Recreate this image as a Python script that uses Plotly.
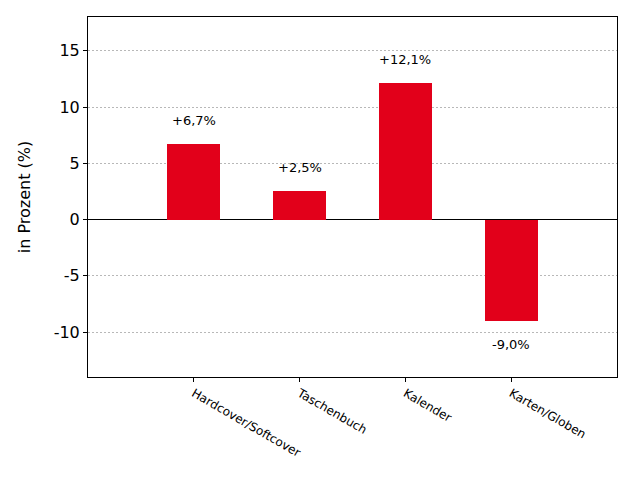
import plotly.graph_objects as go

categories = ["Hardcover/Softcover", "Taschenbuch", "Kalender", "Karten/Globen"]
values = [6.7, 2.5, 12.1, -9.0]
labels = ["+6,7%", "+2,5%", "+12,1%", "-9,0%"]
y_ticks = [-10, -5, 0, 5, 10, 15]

fig = go.Figure()
fig.add_trace(go.Bar(
    x=list(range(len(categories))), y=values,
    width=0.5, marker=dict(color="#e2001a", line=dict(width=0)),
    hoverinfo="skip",
))

for i, (v, t) in enumerate(zip(values, labels)):
    fig.add_annotation(
        x=i, y=v, text=t, showarrow=False,
        yshift=24 if v >= 0 else -24,
        font=dict(family="DejaVu Sans", size=13, color="black"),
    )

fig.update_layout(
    width=640, height=480,
    margin=dict(l=80, r=31, t=9, b=111),
    plot_bgcolor="white", paper_bgcolor="white",
    showlegend=False,
    font=dict(family="DejaVu Sans", color="black"),
    bargap=0,
)
fig.update_xaxes(
    range=[-1, 4], automargin=False,
    tickmode="array", tickvals=list(range(len(categories))), ticktext=categories,
    tickangle=30, tickfont=dict(size=12),
    ticks="outside", ticklen=4, tickcolor="black",
    showline=True, linecolor="black", linewidth=1, mirror=True,
    showgrid=False, zeroline=False,
)
fig.update_yaxes(
    range=[-14, 18], automargin=False,
    tickmode="array", tickvals=y_ticks, ticktext=[str(v) for v in y_ticks],
    tickfont=dict(size=16),
    ticks="outside", ticklen=4, tickcolor="black",
    showline=True, linecolor="black", linewidth=1, mirror=True,
    showgrid=True, gridcolor="#b8b8b8", griddash="2px,2px", gridwidth=1,
    zeroline=True, zerolinecolor="black", zerolinewidth=1,
    title=dict(text="in Prozent (%)", font=dict(size=16), standoff=19),
)

fig.write_html("out.html")
